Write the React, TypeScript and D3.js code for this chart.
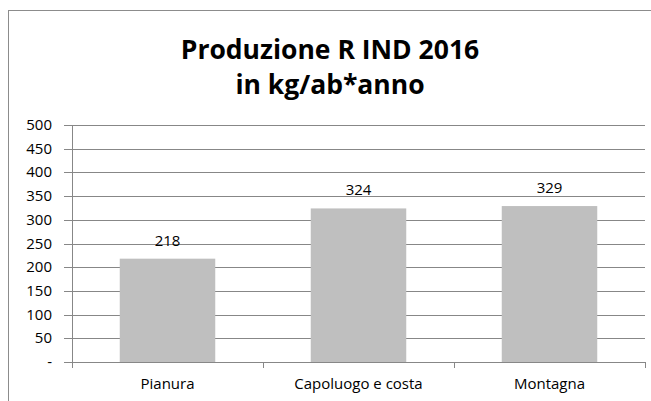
import * as d3 from 'd3';
import React, { useEffect } from 'react';

const categories = ['Pianura', 'Capoluogo e costa', 'Montagna'];
const values = [218, 324, 329];
const yTicks = [0, 50, 100, 150, 200, 250, 300, 350, 400, 450, 500];
const titleLines = ['Produzione R IND 2016', 'in kg/ab*anno'];

export default function App() {
  const ref = React.useRef<HTMLDivElement>(null);

  useEffect(() => {
    if (!ref.current) return;
    ref.current.innerHTML = '';

    const width = 651;
    const height = 401;
    const font = '"Open Sans", sans-serif';
    const plot = { left: 72, right: 645, top: 125, bottom: 362 };
    const labelSize = 15;

    const svg = d3
      .select(ref.current)
      .append('svg')
      .attr('width', width)
      .attr('height', height)
      .style('display', 'block')
      .style('font-family', font);

    svg.append('rect').attr('width', width).attr('height', height).attr('fill', '#fff');

    // outer chart border
    svg
      .append('rect')
      .attr('x', 8.5)
      .attr('y', 10.5)
      .attr('width', 660)
      .attr('height', 420)
      .attr('fill', 'none')
      .attr('stroke', '#8c8c8c')
      .attr('stroke-width', 1);

    // title
    svg
      .append('g')
      .selectAll('text')
      .data(titleLines)
      .enter()
      .append('text')
      .attr('x', 330)
      .attr('y', (d, i) => 59 + i * 35)
      .attr('text-anchor', 'middle')
      .attr('font-size', 26.5)
      .attr('font-weight', 'bold')
      .attr('fill', '#000')
      .text(d => d);

    const x = d3
      .scaleBand()
      .domain(categories)
      .range([plot.left, plot.right])
      .paddingInner(0.5)
      .paddingOuter(0.25);
    const y = d3.scaleLinear().domain([0, 500]).range([plot.bottom, plot.top]);

    // gridlines
    svg
      .append('g')
      .selectAll('line')
      .data(yTicks.slice(1))
      .enter()
      .append('line')
      .attr('x1', plot.left)
      .attr('x2', plot.right)
      .attr('y1', d => Math.round(y(d)) + 0.5)
      .attr('y2', d => Math.round(y(d)) + 0.5)
      .attr('stroke', '#878787');

    // bars
    svg
      .append('g')
      .selectAll('rect')
      .data(values)
      .enter()
      .append('rect')
      .attr('x', (d, i) => x(categories[i])!)
      .attr('width', x.bandwidth())
      .attr('y', d => y(d))
      .attr('height', d => y(0) - y(d))
      .attr('fill', '#bfbfbf');

    // data labels
    svg
      .append('g')
      .selectAll('text')
      .data(values)
      .enter()
      .append('text')
      .attr('x', (d, i) => x(categories[i])! + x.bandwidth() / 2)
      .attr('y', d => y(d) - 13)
      .attr('text-anchor', 'middle')
      .attr('font-size', labelSize)
      .attr('fill', '#000')
      .text(d => d);

    // y axis
    const yAxis = svg.append('g');
    yAxis
      .append('line')
      .attr('x1', plot.left + 0.5)
      .attr('x2', plot.left + 0.5)
      .attr('y1', plot.top)
      .attr('y2', plot.bottom + 6)
      .attr('stroke', '#878787');
    yAxis
      .selectAll('line.tick')
      .data(yTicks)
      .enter()
      .append('line')
      .attr('class', 'tick')
      .attr('x1', plot.left - 8)
      .attr('x2', plot.left)
      .attr('y1', d => Math.round(y(d)) + 0.5)
      .attr('y2', d => Math.round(y(d)) + 0.5)
      .attr('stroke', '#878787');
    yAxis
      .selectAll('text')
      .data(yTicks)
      .enter()
      .append('text')
      .attr('x', 52)
      .attr('y', d => y(d) + 5)
      .attr('text-anchor', 'end')
      .attr('font-size', labelSize)
      .attr('fill', '#000')
      .text(d => (d === 0 ? '-' : d));

    // x axis
    const xAxis = svg.append('g');
    xAxis
      .append('line')
      .attr('x1', plot.left)
      .attr('x2', plot.right)
      .attr('y1', plot.bottom + 0.5)
      .attr('y2', plot.bottom + 0.5)
      .attr('stroke', '#878787');
    const bounds = [plot.left, ...categories.map(c => x(c)! + x.step() * 0.75)];
    xAxis
      .selectAll('line.tick')
      .data(bounds)
      .enter()
      .append('line')
      .attr('class', 'tick')
      .attr('x1', d => Math.round(d) + 0.5)
      .attr('x2', d => Math.round(d) + 0.5)
      .attr('y1', plot.bottom)
      .attr('y2', plot.bottom + 6)
      .attr('stroke', '#878787');
    xAxis
      .selectAll('text')
      .data(categories)
      .enter()
      .append('text')
      .attr('x', d => x(d)! + x.bandwidth() / 2)
      .attr('y', 389)
      .attr('text-anchor', 'middle')
      .attr('font-size', labelSize)
      .attr('fill', '#000')
      .text(d => d);
  }, []);

  return <div ref={ref} style={{ position: 'absolute', left: 0, top: 0 }}></div>;
}
